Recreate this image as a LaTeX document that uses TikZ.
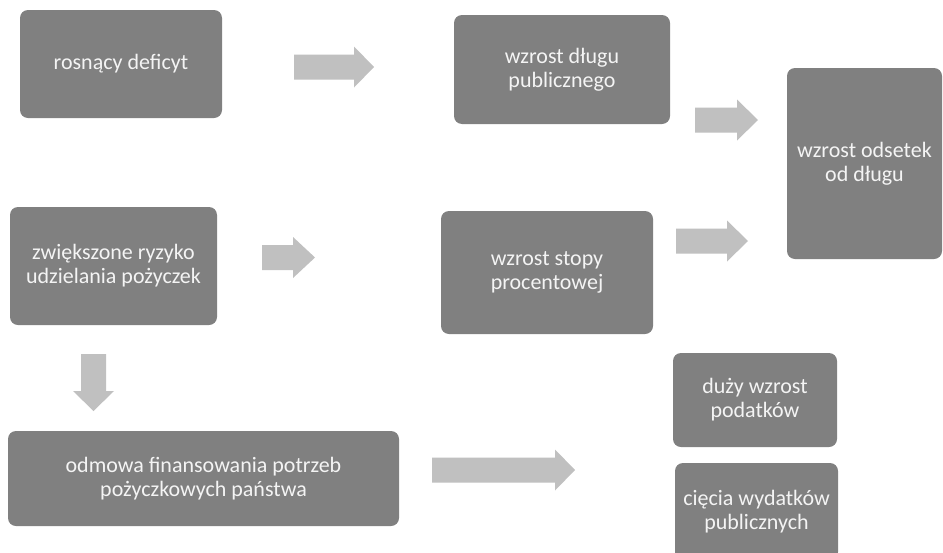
\documentclass[tikz,border=0pt]{standalone}
\usepackage{fontspec}
\setmainfont{Carlito}
\definecolor{boxgray}{HTML}{808080}
\definecolor{arrowgray}{HTML}{C0C0C0}
\definecolor{boxtext}{HTML}{F4F4F4}
\newcommand\rarr[4]{% start x, neck x, tip x, centre y
  \fill[arrowgray] (#1,#4-12.5) -- (#2,#4-12.5) -- (#2,#4-20.5) -- (#3,#4)
    -- (#2,#4+20.5) -- (#2,#4+12.5) -- (#1,#4+12.5) -- cycle;}
\newcommand\darr[4]{% centre x, start y, neck y, tip y
  \fill[arrowgray] (#1-12.5,#2) -- (#1+12.5,#2) -- (#1+12.5,#3) -- (#1+20.5,#3)
    -- (#1,#4) -- (#1-20.5,#3) -- (#1-12.5,#3) -- cycle;}
\tikzset{
  gbox/.style={fill=boxgray, draw=none, rounded corners=8pt, inner sep=0pt,
    text=boxtext, align=center,
    font=\fontsize{22}{24.2}\selectfont}
}
\begin{document}
\begin{tikzpicture}[x=1pt,y=-1pt]
\useasboundingbox (0,0) rectangle (943,552);
\clip (0,0) rectangle (943,552);
\fill[white] (0,0) rectangle (943,552);
\node[gbox, minimum width=202pt, minimum height=108pt] (b1) at (121,64) {rosnący deficyt};
\node[gbox, minimum width=216pt, minimum height=109pt] (b2) at (562,69.5) {wzrost długu\\publicznego};
\node[gbox, minimum width=155pt, minimum height=191pt] (b3) at (864.5,163.5) {wzrost odsetek\\od długu};
\node[gbox, minimum width=207pt, minimum height=118pt] (b4) at (113.5,266) {zwiększone ryzyko\\udzielania pożyczek};
\node[gbox, minimum width=212pt, minimum height=123pt] (b5) at (547,272.5) {wzrost stopy\\procentowej};
\node[gbox, minimum width=391pt, minimum height=95pt] (b6) at (203.5,478.5) {odmowa finansowania potrzeb\\pożyczkowych państwa};
\node[gbox, minimum width=164pt, minimum height=94pt] (b7) at (755,400) {duży wzrost\\podatków};
\node[gbox, minimum width=163pt, minimum height=97pt] (b8) at (756.5,511.5) {cięcia wydatków\\publicznych};
\rarr{294}{354}{374}{67}
\rarr{695}{737}{758}{120}
\rarr{676}{727}{748}{241}
\rarr{262}{293}{315}{257.5}
\rarr{432}{555}{575}{470}
\darr{93.5}{354}{391}{411}
\end{tikzpicture}
\end{document}
